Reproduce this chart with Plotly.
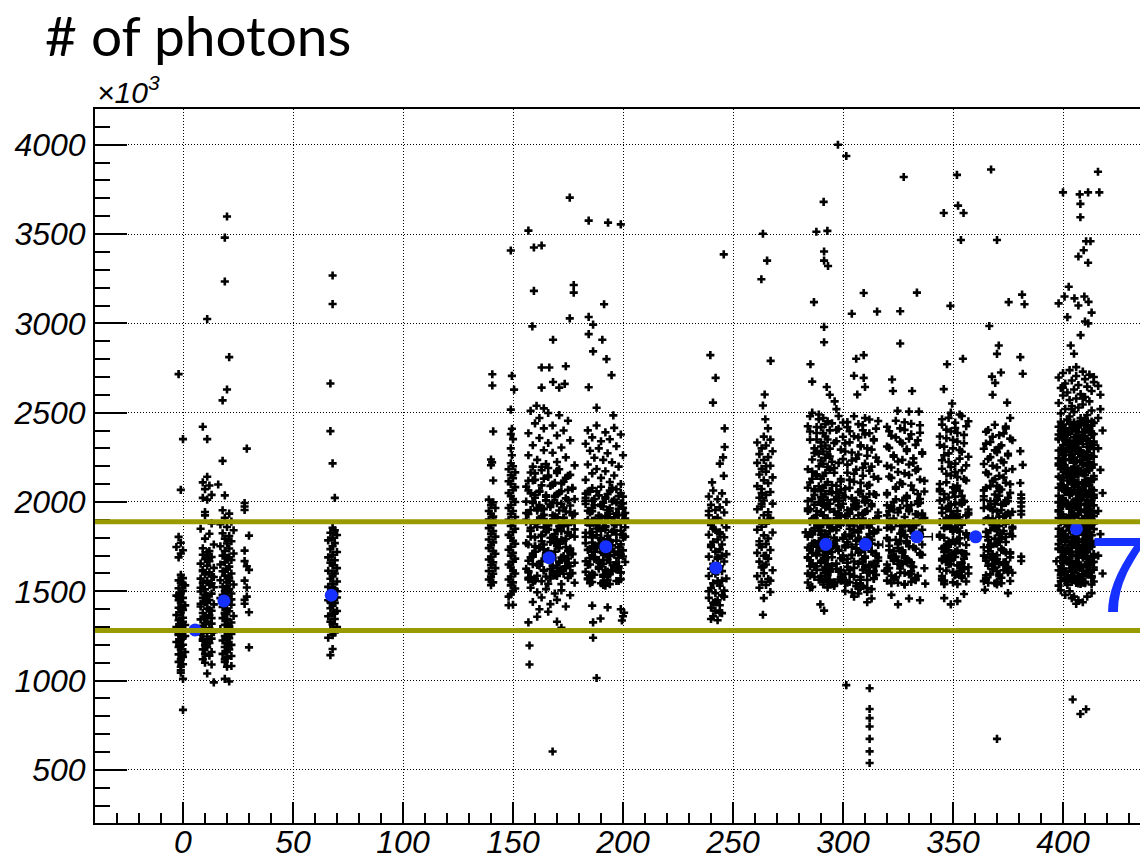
import plotly.graph_objects as go

# ---------------- texts ----------------
title_text = "# of photons"
exponent_text = "×10<sup>3</sup>"
energy_text = "7"

# ---------------- axes ----------------
x_range = [-40, 435]
y_range = [203, 4200]
x_ticks = [0, 50, 100, 150, 200, 250, 300, 350, 400]
y_ticks = [500, 1000, 1500, 2000, 2500, 3000, 3500, 4000]

# selection band (# of photons, x10^3)
band_lo = 1280
band_hi = 1890

# mean of each run group (blue points)
mean_x = [5.5, 18.6, 67.4, 166.4, 192.2, 242.2, 292.2, 310.2, 333.6, 360.3, 406.1]
mean_y = [1284, 1446, 1478, 1688, 1750, 1631, 1763, 1763, 1805, 1805, 1849]
mean_xerr = [2, 2, 2, 3, 3, 2, 3, 7.9, 7.0, 5.0, 3]

# ---------------- per-event points (run, # photons x10^3) ----------------
grp_a = [(-2,2716),(0,2352),(-1,2068),(0,1010),(0,836),(-1,1058),(-1,1045),
 (-2,1805),(-1,1772),(-3,1748),(0,1730),(-1,1712),(-2,1690),
 (-1,1592),(0,1574),(-2,1561),(-1,1548),(1,1533),(-2,1517),(0,1502),(-1,1489),(-3,1476),(0,1463),
 (-2,1450),(-1,1437),(1,1421),(-2,1408),(0,1396),(-1,1381),(-3,1367),(0,1352),(-2,1338),(-1,1325),
 (1,1311),(-2,1297),(0,1284),(-1,1270),(-2,1256),(0,1243),(-1,1229),(-3,1216),(0,1201),(-2,1188),
 (-1,1174),(1,1160),(-2,1147),(0,1133),(-1,1119),(-2,1105),(0,1092),(-1,1078),
 (0,1540),(-2,1470),(-1,1402),(0,1330),(-2,1262),(-1,1195),(1,1250),(-3,1300)]

grp_b = [(9,2421),(11,2352),(11,2141),(9,2110),(12,2092),(10,2072),(13,2040),(9,2023),(11,2013),(10,1944),
 (13,1090),(14,990),(11,1040),(9,1120),(12,1140),(10,1100),
 (10,1925),(13,1880),(8,1850),(12,1822),(10,1795),(14,1762),(9,1741),(12,1725),
 (11,1718),(9,1705),(13,1692),(10,1680),(12,1668),(8,1655),(11,1643),(14,1631),(9,1619),(12,1607),
 (10,1595),(13,1583),(8,1571),(11,1559),(9,1547),(12,1535),(14,1523),(10,1511),(8,1499),(13,1487),
 (11,1475),(9,1463),(12,1451),(10,1439),(14,1427),(8,1415),(11,1403),(13,1391),(9,1379),(12,1367),
 (10,1355),(8,1343),(11,1331),(13,1319),(9,1307),(12,1295),(10,1283),(14,1271),(8,1259),(11,1247),
 (13,1235),(9,1223),(12,1211),(10,1199),(11,1187),(9,1175),(13,1160),(10,1150),
 (12,1690),(9,1612),(13,1545),(10,1482),(8,1430),(12,1395),(10,1322),(13,1268),(9,1232),(11,1205),
 (14,1580),(8,1520),(11,1440),(13,1350),(9,1290)]

grp_c = [(20,3598),(19,3480),(19,3234),(11,3024),(21,2811),(20,2630),(18,2569),(18,2230),(16,2098),(19,2037),
 (20,1078),(22,1082),(19,1010),(21,995),(19,1120),
 (18,1954),(21,1935),(19,1912),(22,1890),(17,1875),(20,1860),(23,1842),(18,1825),(21,1810),(19,1795),(22,1780),
 (20,1768),(17,1752),(21,1740),(19,1726),(23,1712),(18,1700),(20,1688),(22,1675),(19,1662),(17,1650),
 (21,1638),(20,1625),(18,1612),(22,1600),(19,1588),(21,1575),(17,1562),(20,1550),(23,1538),(18,1525),
 (21,1512),(19,1500),(22,1488),(20,1475),(17,1462),(21,1450),(19,1438),(22,1425),(18,1412),(20,1400),
 (21,1388),(19,1375),(23,1362),(18,1350),(20,1338),(22,1325),(19,1312),(21,1300),(17,1288),(20,1275),
 (22,1262),(19,1250),(21,1238),(18,1225),(20,1212),(22,1200),(19,1188),(21,1175),(20,1162),(18,1150),
 (22,1138),(20,1125),(19,1105),
 (21,1690),(19,1610),(20,1530),(22,1455),(19,1380),(21,1305),(20,1230),(18,1480),(21,1560),(20,1345)]

grp_d = [(29,2299),(28,1994),(28,1975),(28,1955),(30,1812),(28,1728),(28,1669),(30,1620),(28,1560),
 (29,1521),(28,1452),(30,1383),(30,1186),(29,1640),(28,1430),(29,1470)]

grp_e = [(68,3268),(68,3108),(67,2663),(67,2397),(68,2216),(69,2023),(68,1177),(67,1143),
 (68,1856),(69,1842),(67,1828),(70,1815),(68,1800),(66,1785),(69,1770),(68,1752),(67,1736),(70,1720),
 (68,1705),(66,1690),(69,1674),(67,1660),(68,1645),(70,1630),(66,1615),(69,1600),(68,1585),(67,1570),
 (70,1555),(68,1540),(66,1525),(69,1510),(67,1495),(68,1480),(70,1465),(66,1450),(69,1435),(68,1420),
 (67,1405),(70,1390),(68,1375),(66,1360),(69,1345),(67,1330),(68,1315),(70,1300),(67,1285),(69,1270),
 (68,1255),(66,1240),(68,1520),(67,1440),(69,1380),(68,1600),(70,1500)]

grp_f1 = [(140.6,2715),(140.6,2652),(141,2395),(140,2238),(140.5,2222),(140,2206),(141,2120),
 (139,2013),(141,1998),(140,1982),(142,1966),(139,1950),(140,1934),(141,1918),(139,1902),(142,1886),
 (140,1870),(139,1854),(141,1838),(140,1822),(142,1806),(139,1790),(141,1774),(140,1758),(139,1742),
 (141,1726),(142,1710),(140,1694),(139,1678),(141,1662),(140,1646),(142,1630),(139,1614),(141,1598),
 (140,1582),(139,1566),(141,1550),(140,1534)]

grp_f2 = [(149,3408),(149.5,2706),(150.5,2629),(149,2517),(149.5,2410),(149,2380),(150,2352),(149,2300),
 (149.5,2262),(148,1422),(150,1425),
 (149,2217),(150,2200),(148,2183),(151,2166),(149,2150),(150,2133),(148,2116),(149,2100),(151,2083),
 (150,2066),(148,2050),(149,2033),(150,2016),(151,2000),(149,1983),(148,1966),(150,1950),(149,1933),
 (151,1916),(148,1900),(150,1883),(149,1866),(151,1850),(150,1833),(148,1816),(149,1800),(150,1783),
 (151,1766),(149,1750),(148,1733),(150,1716),(149,1700),(151,1683),(150,1666),(148,1650),(149,1633),
 (150,1616),(151,1600),(149,1583),(148,1566),(150,1550),(149,1533),(151,1516),(150,1500),(149,1483),(148,1470)]

grp_g_out = [(175.8,3704),(157,3519),(159.5,3425),(163,3436),(159.5,3182),(158.8,2983),(168.2,2908),
 (177.6,3215),(177.6,3172),(175.8,3028),(163,2753),(166.5,2753),(174,2760),(163,2640),(168.2,2672),
 (171,2640),(173.5,2661),(160.7,2539),(164,2524),(168,603),(157,1326),(161,1358),(157.5,1197),
 (157.5,1090),(170,1330),(172,1296),
 (158,2510),(166,2498),(171,2486),(162,2470),(175,2455),(160,2440),(168,2428),(164,2412),(173,2400),
 (157,2385),(170,2372),(162,2358),(176,2345),(166,2330),(159,2318),(172,2305),(164,2290),(168,2276),
 (157,2262),(174,2250),(161,2236),(170,2224),(165,2212),(178,2205),(159,2198),
 (158,1520),(165,1512),(172,1505),(161,1495),(169,1488),(176,1478),(163,1465),(170,1452),(159,1440),
 (167,1428),(174,1415),(162,1400),(166,1386)]
grp_g_core = [(161,1968),(172,1622),(166,1845),(177,1710),(157,1575),(169,2028),(175,1872),(163,1668),(178,1935),(159,1552),
 (170,1790),(164,1858),(174,1640),(156,2002),(168,1598),(160,1750),(173,1912),(165,1695),(176,1815),(158,1580),
 (167,1985),(171,1660),(162,1895),(175,1725),(157,1612),(166,1870),(169,1770),(174,1630),(160,2040),(163,1556),
 (172,1836),(158,1690),(177,1928),(164,1762),(170,1586),(161,1952),(176,1716),(167,1800),(173,1864),(159,1652),
 (165,2010),(171,1606),(156,1890),(168,1644),(162,1746),(178,1806),(174,1672),(166,1542),(160,1722),(170,1994),
 (163,1920),(175,1684),(157,1566),(169,1905),(172,2060),(158,1840),(176,1600),(164,1960),(171,1742),(167,1625)]
grp_g_x = [163,171,158,176,166,160,173,168,156,175,162,170,165,178,159,172,167,161,174,157,169,164,177,160,
 171,166,158,175,163,168,173,156,170,162,176,165,159,172,167,178,161,174,164,157,169,175,160,166,
 170,160,175,164,157,172,167,177,162,158,169,174,165,159,176,163,171,156,168,173,161,178,166,158,
 170,175,163,160,172,167,157,174,164,169,177,159,166,171,162,176,156,168,173,165,160,178,163,170,
 166,174,159,169,163,177,157,171,165,160,175,168,162,173,158,176,164,170,156,167,172,161,178,165,
 169,158,174,163,171,160,176,166,159,173,168,157,175,162,170,164,177,161,167,172,158,169,174,163]
grp_g_y = [2196,2183,2165,2152,2140,2124,2113,2097,2086,2068,2057,2043,2029,2016,2001,1990,1972,1961,1947,1933,
 1920,1904,1893,1878,1866,1850,1838,1825,1809,1797,1783,1770,1755,1742,1730,1714,1701,1689,1674,1660,
 1648,1633,1619,1606,1590,1575,1560,
 2190,2174,2160,2146,2131,2119,2104,2090,2075,2062,2049,2034,2020,2008,1994,1980,1966,1952,1938,1925,
 1911,1898,1884,1870,1856,1843,1830,1816,1802,1789,1776,1762,1748,1735,1722,1708,1694,1681,1667,1654,
 1640,1626,1612,1598,1583,1568,1548,
 2178,2162,2148,2135,2121,2107,2093,2080,2064,2052,2037,2024,2011,1996,1983,1969,1955,1941,1928,1914,
 1900,1888,1874,1860,1847,1834,1820,1806,1793,1780,1766,1752,1739,1726,1712,1698,1685,1671,1658,1644,
 1630,1616,1602,1587,1572,1540]

grp_h_out = [(184.4,3575),(193.2,3564),(199,3554),(191.4,3107),(184.4,3036),(186.4,2993),(184.4,2940),
 (190.6,2908),(186.4,2843),(192.5,2800),(194.8,2710),(184.4,2642),(188,2528),(195.6,2485),(186.4,1326),
 (189.8,1348),(186.4,1240),(188,1015),(200.5,1380),(199.5,1337),(200,1360),(199,1400),(186,1420),(193,1410),
 (188,2428),(196,2415),(184,2401),(192,2390),(199,2378),(186,2362),(194,2351),(190,2340),(183,2326),
 (197,2312),(189,2300),(185,2287),(193,2273),(200,2262),(187,2248),(191,2236),(195,2222),(184,2210),
 (198,2198),(188,2185),(192,2172),(186,2160),(196,2148),(190,2135),(183,2124),(194,2112),(199,2100)]
grp_h_core = [(186,1966),(195,1618),(190,1842),(199,1706),(184,1568),(192,2026),(197,1874),(188,1674),(201,1938),(185,1546),
 (193,1792),(189,1852),(198,1634),(183,2006),(191,1592),(187,1754),(196,1914),(194,1697),(200,1816),(185,1577),
 (190,1986),(197,1662),(186,1894),(193,1727),(199,1606),(188,1868),(192,1774),(196,1631),(184,2058),(191,1553),
 (195,1834),(187,1692),(200,1926),(189,1766),(185,1588),(194,1951),(198,1716),(186,1802),(192,1862),(190,1652),
 (197,1998),(193,1610),(183,1888),(196,1646),(188,1746),(201,1806),(191,1674),(194,1540),(187,1722),(199,1992),
 (192,1922),(185,1686),(198,1558),(189,1906),(195,2072)]
grp_h_x = [190,197,185,193,200,187,195,183,191,198,186,194,189,201,184,196,192,188,199,185,
 193,190,197,183,195,187,200,191,186,198,189,194,184,196,192,199,187,185,193,190,
 186,194,199,189,183,196,191,187,200,193,185,198,190,184,195,188,201,192,186,197,
 183,190,194,199,188,185,196,192,200,187,183,191,198,189,195,186,193,184,197,191,
 195,188,183,198,192,186,200,190,194,184,197,189,193,187,199,185,191,196,183,188,
 200,194,186,192,198,184,190,196,187,193,201,185,189,197,183,194,191,199,186,192]
grp_h_y = [2085,2071,2057,2044,2030,2016,2003,1989,1975,1962,1948,1934,1921,1907,1893,1880,1866,1852,1839,1825,
 1811,1798,1784,1770,1757,1743,1729,1716,1702,1688,1675,1661,1647,1634,1620,1606,1593,1579,1565,1545,
 2078,2064,2050,2037,2023,2009,1996,1982,1968,1955,1941,1927,1914,1900,1886,1873,1859,1845,1832,1818,
 1804,1791,1777,1763,1750,1736,1722,1709,1695,1681,1668,1654,1640,1627,1613,1599,1586,1572,1558,1535,
 2080,2060,2047,2033,2019,2006,1992,1978,1965,1951,1937,1924,1910,1896,1883,1869,1855,1842,1828,1814,
 1801,1787,1773,1760,1746,1732,1719,1705,1691,1678,1664,1650,1637,1623,1609,1596,1582,1568,1552,1531]

grp_i_out = [(245.8,3386),(239.7,2822),(242.1,2695),(240.9,2556),(246.2,2412),(246.2,2308),(245.5,2250),
 (244,2215),(245.8,2146),(240.5,2110),
 (242,1900),(244,1820),(240,1760),(243,1690),(241,1630),(245,1560),(239,1500),(242,1440),(244,1380),
 (240,1345),(246,1470),(243,1610),(241,1850),(245,1700),(239,1950)]
grp_i_x = [241,245,239,243,247,240,244,242,246,239,243,241,245,240,247,242,244,239,246,243,241,245,240,244,242,
 247,239,243,246,241,244,240,245,242,239,247,243,241,244,240,246,242,245,239,243,241,244,240,242,245,241,243]
grp_i_y = [2064,2048,2031,2015,2000,1984,1970,1955,1941,1926,1912,1899,1885,1871,1858,1844,1830,1817,1803,1790,
 1776,1762,1749,1735,1722,1708,1694,1681,1667,1654,1640,1626,1613,1599,1586,1572,1558,1545,1531,1518,
 1504,1490,1477,1463,1450,1436,1422,1408,1392,1378,1360,1338]

grp_j_out = [(263.6,3502),(265.5,3351),(262.9,3247),(267.1,2790),(264.4,2602),(263.6,2540),(264.7,2463),
 (265.9,2412),(263.6,1369),(265,2200),(263,2050),(266,1900),(262,1760),(264,1640),(267,1560),(263,1990),(265,1700)]
grp_j_x = [264,267,261,265,263,268,262,266,264,261,267,263,265,262,268,264,266,261,263,267,265,262,264,268,263,
 261,266,264,267,262,265,263,261,268,264,266,262,265,263,267,261,264,266,262,265,263,268,264,261,266,263,265,262,267,264]
grp_j_y = [2366,2349,2333,2316,2300,2284,2268,2251,2235,2219,2203,2186,2170,2154,2138,2121,2105,2089,2073,2056,
 2040,2024,2008,1991,1975,1959,1943,1926,1910,1894,1878,1861,1845,1829,1813,1796,1780,1764,1748,1731,
 1715,1699,1683,1666,1650,1634,1618,1601,1585,1569,1553,1536,1520,1496,1462]

grp_k_out = [(291.2,3680),(287.9,3513),(292.9,3518),(291.4,3402),(291.4,3351),(293.2,3321),(286.8,3119),
 (291.4,2980),(291.4,2894),(285.2,2771),(286,2674),(292.6,2644),(296.2,2563),(289.7,1427),(291.4,1392),
 (301.5,975),(285,2480),(288,2420),(294,2600),(297,2520)]
grp_k_core = [(287,1985),(295,1642),(290,2061),(298,1733),(285,1588),(293,1877),(288,1701),(296,2014),(284,1806),(291,1553),
 (299,1921),(286,1768),(294,1615),(289,2088),(297,1842),(292,1679),(285,1959),(300,1574),(288,1895),(295,1720),
 (290,1660),(283,1830),(296,1540),(287,2040),(293,1785),(298,1610),(286,1905),(291,1745),(299,2070),(289,1565),
 (294,1990),(284,1690),(297,1860),(292,1630),(288,1950),(300,1795),(285,1520),(295,2095),(290,1815),(287,1580),
 (293,1710),(298,1935),(286,1655),(291,2025),(296,1760),(289,1870),(284,1600),(299,1685),(292,1970),(288,1750),
 (294,1545),(287,1910),(297,1625),(290,1995),(285,1740),(295,1855),(291,1675),(298,2050),(286,1825),(293,1590),
 (289,1725),(296,1945),(284,2005),(292,1795),(299,1560),(288,1640),(294,1880),(287,1770),(300,1700),(291,1925)]
grp_k_cx = [291,293,292,290,294,291,292,293,290,292,294,291,293,292,290,291,293,294,292,291,290,293,292,291,294,
 292,290,293,291,292,294,290,291,293,292,291,294,290,292,293,291,292,290,294,293,291,292,290,293,292,
 291,293,290,292,294,291,293]
grp_k_cy = [2470,2452,2436,2418,2401,2385,2367,2350,2334,2316,2299,2283,2265,2248,2232,2214,2197,2181,2163,2146,
 2130,2112,2095,2079,2061,2044,2028,2010,1993,1977,1959,1942,1926,1908,1891,1875,1857,1840,1824,1806,
 1789,1773,1755,1738,1722,1704,1687,1671,1653,1636,1620,1603,1587,1570,1553,1538,1522]
grp_k_x = [286,298,289,295,284,297,288,300,285,296,290,299,287,294,286,298,289,284,296,288,299,285,297,287,295,
 300,286,289,298,284,296,288,297,285,299,287,294,286,300,289,296,284,298,288,295,285,297,287,299,286,
 290,298,284,296,289,300,285,297,288,295,286,299,287,298,284,296,289,297,285,300,288,294,286,298,287,
 296,284,299,289,297,285,295,288,300,286,298,287,296,284,299,289,297,285,294,288,298,286,300,287,296]
grp_k_y = [2500,2481,2463,2440,2424,2403,2386,2365,2349,2330,2311,2293,2274,2255,2238,2219,2200,2183,2164,2146,
 2128,2109,2091,2073,2054,2036,2018,2000,1981,1963,1945,1927,1908,1890,1872,1854,1836,1818,1800,1782,
 1764,1745,1727,1709,1691,1673,1655,1637,1619,1601,1583,1566,1549,1530,
 2490,2445,2395,2340,2282,2225,2170,2115,2060,2005,1950,1895,1840,1785,1730,1675,1620,1565,1525,
 2410,2300,2190,2080,1970,1860,1750,1640,1540,2350,2240,2130,2020,1910,1800,1690,1580,
 2270,2050,1830,1610,2155,1935,1715,1990,1770,1550]

grp_l_out = [(297.7,4000),(301.5,3937),(309.4,3170),(304,3054),(315.5,3066),(306,2802),(309.4,2822),(305,2707),
 (309.4,2695),(306.5,2602),(310,2644),(311,1439),(312.1,957),(312.1,841),(312.1,790),(312.1,743),(312.1,674),
 (312.1,604),(312.1,539),(313,1460),(305,1470)]
grp_l_core = [(304,1962),(311,1605),(307,1830),(315,1712),(302,1548),(309,2031),(313,1880),(305,1667),(316,1941),(308,1523),
 (312,1789),(303,1850),(310,1634),(306,2008),(314,1574),(301,1746),(309,1907),(316,1689),(304,1812),(311,1497),
 (307,1975),(313,1650),(302,1889),(308,1720),(315,1592),(305,1868),(310,1766),(303,1618),(312,2045),(306,1545),
 (314,1835),(309,1680),(301,1920),(316,1760),(307,1515),(311,1950),(304,1702),(313,1788),(308,1861),(302,1660),
 (310,1998),(305,1582),(315,1900),(312,1610),(306,1740),(303,1935),(314,1655),(309,1530),(307,1795),(311,1875),
 (301,1600),(316,1845),(304,2020),(313,1725),(308,1565),(310,1695),(305,1985),(312,1820),(302,1775),(315,1640)]
grp_l_x = [305,312,302,309,315,303,310,307,314,301,308,313,304,311,306,316,302,309,312,305,314,303,308,311,301,
 307,315,304,310,313,306,302,309,316,305,312,303,308,314,301,311,306,313,304,310,307,315,302,309,312,
 305,314,303,308,311,301,306,313,304,310,316,307,302,309,312,305,314,303,308,311,301,307,315,304,310,
 313,306,302,309,316,305,312,303,308,314,301,311,306,313,304,310,307,315,302,309,312,305,314,303,308,
 311,301,306,313,304,310,316,307,302,309,312,305,314,303,308,311,301,307,315,304]
grp_l_y = [2480,2462,2447,2430,2411,2396,2378,2362,2344,2328,2311,2293,2277,2259,2243,2226,2209,2192,2175,2158,
 2141,2124,2107,2090,2073,2056,2039,2022,2005,1988,1971,1954,1937,1920,1903,1886,1869,1852,1835,1818,
 1801,1784,1767,1750,1733,1716,1699,1682,1665,1648,1631,1614,1597,1580,1563,1546,1529,1512,1495,
 2470,2453,2436,2419,2402,2385,2368,2351,2334,2317,2300,2283,2266,2249,2232,2215,2198,2181,2164,2147,
 2130,2113,2096,2079,2062,2045,2028,2011,1994,1977,1960,1943,1926,1909,1892,1875,1858,1841,1824,1807,
 1790,1773,1756,1739,1722,1705,1688,1671,1654,1637,1620,1603,1586,1569,1552,1535,1518,1501,1488]

grp_m_out = [(327.6,3819),(333.6,3172),(326,3068),(326,2887),(322.3,2686),(322.7,2621),(331.4,2621),
 (324.8,2510),(330,2506),(334.5,2506),(325,1427),(337.4,1543),(330,1460),(335,1450),(322,1480)]
grp_m_core = [(323,1958),(331,1612),(327,1840),(335,1705),(320,1560),(329,2022),(333,1870),(325,1672),(336,1936),(328,1541),
 (321,1786),(332,1855),(326,1628),(334,2004),(322,1588),(330,1752),(337,1910),(324,1694),(328,1815),(333,1566),
 (320,1982),(327,1655),(335,1892),(323,1725),(331,1598),(326,1866),(329,1770),(321,1630),(334,2045),(325,1548),
 (332,1830),(328,1688),(320,1925),(336,1762),(324,1580),(330,1948),(327,1715),(333,1795),(322,1860),(329,1662),
 (335,1995),(326,1604),(321,1890),(331,1640),(325,1742),(334,1930),(323,1670),(328,1537),(332,1800),(330,1880),
 (319,1615),(336,1845),(324,2015),(327,1730),(333,1575),(322,1700),(329,1978),(335,1820),(326,1780),(320,1650)]
grp_m_x = [324,331,320,328,335,322,330,326,333,321,329,336,323,327,332,320,334,325,330,322,337,327,324,332,320,
 329,335,323,331,326,321,333,328,336,324,330,322,327,334,320,329,325,332,321,335,328,323,331,326,337,
 320,330,324,333,322,328,335,326,321,331,324,334,327,320,329,336,323,332,325,330,322,333,328,321,335,
 326,331,324,337,320,329,327,334,322,330,325,336,323,332,328,320,331,326,335,324,329,321,333,327,336,
 322,330,325,332,320,328,334,323,331]
grp_m_y = [2455,2438,2421,2404,2388,2371,2354,2337,2320,2303,2286,2270,2253,2236,2219,2202,2185,2168,2152,2135,
 2118,2101,2084,2067,2050,2034,2017,2000,1983,1966,1949,1932,1916,1899,1882,1865,1848,1831,1814,1798,
 1781,1764,1747,1730,1713,1696,1680,1663,1646,1629,1612,1595,1578,1562,1545,
 2446,2430,2412,2396,2379,2362,2345,2328,2311,2295,2278,2261,2244,2227,2210,2193,2177,2160,2143,2126,
 2109,2092,2075,2059,2042,2025,2008,1991,1974,1957,1941,1924,1907,1890,1873,1856,1839,1823,1806,1789,
 1772,1755,1738,1721,1705,1688,1671,1654,1637,1620,1603,1587,1570,1553,1535]

grp_n_out = [(351.8,3831),(352.3,3659),(354.8,3618),(345.8,3618),(353.6,3467),(348.8,3098),(347.3,2771),
 (354.5,2802),(345.8,2632),(349.6,2551),(349,1427),(355,1485),(346,1462),(352,1445)]
grp_n_core = [(347,1962),(353,1615),(350,1838),(356,1708),(345,1562),(351,2030),(354,1875),(348,1676),(357,1940),(346,1543),
 (352,1790),(349,1850),(355,1632),(344,2008),(351,1590),(347,1755),(353,1915),(350,1698),(356,1818),(345,1570),
 (349,1985),(354,1660),(346,1895),(352,1728),(357,1600),(348,1870),(351,1772),(355,1625),(344,2060),(350,1550),
 (353,1835),(347,1690),(356,1925),(349,1765),(345,1585),(352,1950),(354,1715),(346,1800),(351,1862),(348,1650),
 (355,2000),(350,1608),(344,1888),(353,1645),(347,1745),(357,1805),(349,1672),(352,1540),(346,1720),(354,1990),
 (350,1928),(345,1682),(356,1555),(348,1905),(351,2075)]
grp_n_x = [349,354,345,351,356,347,352,344,350,355,346,353,348,357,345,351,349,354,347,352,356,344,350,353,346,
 348,355,351,345,349,357,347,352,354,346,350,344,353,348,356,345,351,349,355,347,352,344,350,354,346,
 353,348,357,345,351,349,355,347,352,344,350,354,346,353,348,356,345,351,349,355,347,352,344,350,354,
 346,353,348,357,345,351,349,354,347,352,356,344,350,353,346,348,355,351,345,349,357,347,352,354,346]
grp_n_y = [2500,2481,2463,2444,2424,2405,2386,2367,2348,2329,2310,2291,2272,2253,2234,2215,2196,2177,2158,2139,
 2120,2101,2082,2063,2044,2025,2006,1987,1968,1949,1930,1911,1892,1873,1854,1835,1816,1797,1778,1759,
 1740,1721,1702,1683,1664,1645,1626,1607,1588,1560,
 2490,2471,2452,2433,2414,2395,2376,2357,2338,2319,2300,2281,2262,2243,2224,2205,2186,2167,2148,2129,
 2110,2091,2072,2053,2034,2015,1996,1977,1958,1939,1920,1901,1882,1863,1844,1825,1806,1787,1768,1749,
 1730,1711,1692,1673,1654,1635,1616,1597,1575,1540]

grp_o_out = [(367.3,3861),(370,3467),(375.3,3119),(381.4,3161),(382.5,3107),(366.5,2985),(370.8,2876),
 (370,2829),(371.8,2725),(367.7,2702),(369.2,2667),(374.6,2556),(368,2600),(376,2470),(364.5,1508),
 (375,1490),(370,674),(380.6,2811),(381.7,2718),(380.6,2285),(381.7,2208),(380.6,2106),(381,2041),
 (381,2020),(381,1998),(381,1975),(381,1950),(381,1930),(381,1694),(381,1670)]
grp_o_core = [(367,1965),(373,1618),(370,1842),(376,1712),(365,1565),(371,2035),(374,1878),(368,1680),(377,1945),(366,1548),
 (372,1795),(369,1852),(375,1636),(364,2012),(371,1594),(367,1758),(373,1918),(370,1702),(376,1822),(365,1575),
 (369,1988),(374,1664),(366,1898),(372,1732),(377,1604),(368,1874),(371,1776),(375,1628),(364,2065),(370,1555),
 (373,1838),(367,1694),(376,1928),(369,1768),(365,1590),(372,1955),(374,1718),(366,1804),(371,1866),(368,1654),
 (375,2004),(370,1612),(364,1892),(373,1648),(367,1748),(377,1808),(369,1676),(372,1545),(366,1724),(374,1995),
 (370,2090),(365,1686),(376,1558),(368,1908),(371,2080)]
grp_o_x = [369,374,365,371,376,367,372,364,370,375,366,373,368,377,365,371,369,374,367,372,376,364,370,373,366,
 368,375,371,365,369,377,367,372,374,366,370,364,373,368,376,365,371,369,375,367,372,364,370,374,366,
 373,368,377,365,371,369,375,367,372,364,370,374,366,373,368,376,365,371,369,375,367,372,364,370,374,
 366,373,368,377,365,371,369,374,367,372,376,364,370,373,366,368,375,371,365,369]
grp_o_y = [2432,2412,2393,2374,2355,2336,2317,2298,2279,2260,2241,2222,2203,2184,2165,2146,2127,2108,2089,2070,
 2051,2032,2013,1994,1975,1956,1937,1918,1899,1880,1861,1842,1823,1804,1785,1766,1747,1728,1709,1690,
 1671,1652,1633,1614,1595,1576,1557,1538,
 2422,2403,2384,2365,2346,2327,2308,2289,2270,2251,2232,2213,2194,2175,2156,2137,2118,2099,2080,2061,
 2042,2023,2004,1985,1966,1947,1928,1909,1890,1871,1852,1833,1814,1795,1776,1757,1738,1719,1700,1681,
 1662,1643,1624,1605,1586,1567,1545]

grp_p_out = [(400,3733),(407.6,3722),(411.4,3733),(415.9,3849),(416.5,3733),(407.9,3669),(407.9,3594),
 (410.5,3460),(412.5,3460),(407,3374),(409.4,3409),(411.4,3339),(402.6,3205),(398,3112),(400.7,3150),
 (405.2,3140),(409.7,3150),(411.6,3120),(407,3100),(413,3060),(402,3035),(410,3010),(411.5,3000),
 (408,2934),(403.5,2876),(405,2830),(404.4,894),(407.9,813),(410.5,840),
 (416,2650),(417,2520),(418,2400),(416,2300),(417,2180),(418,2050),(416,1950),(417,1820),(416,1700),
 (418,1600),(417,2600),(416,2470),
 (404,1462),(409,1439),(405,1470),(401,1480),(411,1470),(407,1450),(403,1500),(413,1490),(399,1505),(406,1430),
 (403,2738),(409,2730),(400,2722),(412,2713),(406,2705),(398,2697),(410,2688),(404,2680),(414,2671),
 (401,2663),(407,2655),(411,2646),(399,2638),(405,2630),(413,2621),(402,2613),(408,2604),(400,2596),
 (410,2588),(406,2579),(403,2571),(412,2563),(398,2554),(409,2546),(404,2537),(407,2529),(401,2521),
 (413,2512),(405,2504),(399,2496),(411,2487),(403,2479),(408,2470),(410,2466),(402,2462),(406,2755),
 (414,2700),(400,2640),(409,2580),(404,2520)]
grp_p_core = [(401,2412),(409,1688),(405,2155),(413,1902),(399,1575),(407,2330),(411,1790),(403,2040),(414,1633),(400,2268),
 (408,1861),(404,1552),(412,2201),(406,1744),(398,1998),(410,2389),(402,1672),(409,2100),(405,1818),(413,2450),
 (401,1595),(407,1960),(411,2245),(403,1710),(399,2080),(414,1880),(406,1620),(408,2360),(400,1930),(412,1766),
 (404,2175),(410,1545),(402,2300),(409,1840),(405,1655),(413,2125),(401,1995),(407,1725),(411,2420),(403,1570),
 (398,1910),(406,2230),(414,1690),(408,2015),(400,1805),(412,2340),(404,1610),(410,1955),(402,2190),(409,1760),
 (405,2440),(413,1585),(401,2060),(407,1870),(411,1640),(403,2280),(399,1735),(414,2145),(406,1980),(408,1560),
 (400,2385),(412,1828),(404,1700),(410,2090),(402,1905),(409,2255),(405,1625),(413,1945),(401,2170),(407,1790),
 (411,2030),(403,1850),(398,2355),(406,1665),(414,2210),(408,1890),(400,1605),(412,2405),(404,1968),(410,1718),
 (402,2120),(409,1548),(405,2310),(413,1775),(401,1885),(407,2050),(411,1680),(403,2235),(399,1820),(414,1920),
 (406,2395),(408,1640),(400,2005),(412,1740),(404,2265),(410,1860),(402,1590),(409,2160),(405,1935),(413,2375),
 (401,1712),(407,2110),(411,1835),(403,1565),(398,2215),(406,1795),(414,2025),(408,2290),(400,1660),(412,1975),
 (404,1880),(410,2430),(402,1745),(409,1615),(405,2070),(413,1815),(401,2345),(407,1580),(411,2185),(403,1925),
 (399,1690),(414,2320),(406,1855),(408,1730),(400,2140),(412,1620),(404,2400),(410,1990),(402,1805),(409,2240),
 (405,1570),(413,2010),(401,1775),(407,2270),(411,1945),(403,1650),(398,1850),(406,2180),(414,1555),(408,2455)]
grp_p_x = [402,410,398,406,413,400,408,404,411,399,407,414,401,409,405,412,403,398,410,406,400,413,404,408,411,
 402,399,407,414,405,401,409,412,403,406,398,410,404,413,400,408,411,402,407,399,414,405,409,401,406,
 408,400,412,404,398,410,403,414,406,401,411,405,399,409,413,402,407,400,412,404,398,410,406,414,401,
 408,403,411,399,405,413,402,409,400,406,412,404,398,410,403,414,407,401,411,405,399,409,413,402,408,
 405,413,401,409,399,411,406,402,414,408,400,404,412,398,407,410,403,413,405,400,409,401,411,406,398,
 414,403,408,412,402,399,410,405,407,413,401,409,404,398,411,406,400,414,408,403,412,399,405,410,402,
 411,403,407,399,414,405,401,409,412,398,404,410,406,400,413,408,402,405,411,399,407,414,403,409,400,
 412,406,398,404,410,413,401,408,403,411,405,399,414,407,402,409,400,412,404,406,398,410,413,401,407,
 399,407,404,412,402,409,414,400,405,411,403,398,408,413,401,406,410,399,404,412,402,408,414,400,405,
 410,403,398,407,411,401,413,406,399,409,402,412,405,400,408,414,403,397,410,406,401,411,404,399,413,
 414,406,410,402,407,398,412,404,400,409,413,401,405,411,399,408,403,414,406,410,402,412,398,407,404,
 400,411,413,405,409,399,403,414,407,401,410,406,412,398,404,409,401,413,405,400,411,407,403,410,398]
grp_p_y = [2458,2440,2421,2402,2384,2365,2347,2328,2309,2291,2272,2254,2235,2216,2198,2179,2161,2142,2123,2105,
 2086,2068,2049,2030,2012,1993,1975,1956,1937,1919,1900,1882,1863,1844,1826,1807,1789,1770,1751,1733,
 1714,1696,1677,1658,1640,1621,1603,1584,1565,1547,
 2452,2434,2415,2396,2378,2359,2341,2322,2303,2285,2266,2248,2229,2210,2192,2173,2155,2136,2117,2099,
 2080,2062,2043,2024,2006,1987,1969,1950,1931,1913,1894,1876,1857,1838,1820,1801,1783,1764,1745,1727,
 1708,1690,1671,1652,1634,1615,1597,1578,1559,1541,
 2446,2428,2409,2390,2372,2353,2335,2316,2297,2279,2260,2242,2223,2204,2186,2167,2149,2130,2111,2093,
 2074,2056,2037,2018,2000,1981,1963,1944,1925,1907,1888,1870,1851,1832,1814,1795,1777,1758,1739,1721,
 1702,1684,1665,1646,1628,1609,1591,1572,1553,1535,
 2455,2437,2418,2399,2381,2362,2344,2325,2306,2288,2269,2251,2232,2213,2195,2176,2158,2139,2120,2102,
 2083,2065,2046,2027,2009,1990,1972,1953,1934,1916,1897,1879,1860,1841,1823,1804,1786,1767,1748,1730,
 1711,1693,1674,1655,1637,1618,1600,1581,1562,1544,
 2449,2431,2412,2393,2375,2356,2338,2319,2300,2282,2263,2245,2226,2207,2189,2170,2152,2133,2114,2096,
 2077,2059,2040,2021,2003,1984,1966,1947,1928,1910,1891,1873,1854,1835,1817,1798,1780,1761,1742,1724,
 1705,1687,1668,1649,1631,1612,1594,1575,1556,1538,
 2443,2425,2406,2387,2369,2350,2332,2313,2294,2276,2257,2239,2220,2201,2183,2164,2146,2127,2108,2090,
 2071,2053,2034,2015,1997,1978,1960,1941,1922,1904,1885,1867,1848,1829,1811,1792,1774,1755,1736,1718,
 1699,1681,1662,1643,1625,1606,1588,1569,1550,1532]

# ---------------- assemble ----------------
pair_groups = [grp_a, grp_b, grp_c, grp_d, grp_e, grp_f1, grp_f2, grp_g_out, grp_g_core, grp_h_out, grp_h_core,
               grp_i_out, grp_j_out, grp_k_out, grp_k_core, grp_l_out, grp_l_core, grp_m_out, grp_m_core,
               grp_n_out, grp_n_core, grp_o_out, grp_o_core, grp_p_out, grp_p_core]
list_groups = [(grp_g_x, grp_g_y), (grp_h_x, grp_h_y), (grp_i_x, grp_i_y), (grp_j_x, grp_j_y),
               (grp_k_cx, grp_k_cy), (grp_k_x, grp_k_y), (grp_l_x, grp_l_y), (grp_m_x, grp_m_y),
               (grp_n_x, grp_n_y), (grp_o_x, grp_o_y), (grp_p_x, grp_p_y)]

ev_x, ev_y = [], []
for g in pair_groups:
    for px, py in g:
        ev_x.append(px)
        ev_y.append(py)
for gx, gy in list_groups:
    for px, py in zip(gx, gy):
        ev_x.append(px)
        ev_y.append(py)

BLUE = "#1530ff"
OLIVE = "#999900"
tick_font = dict(family="Liberation Sans, Arial, sans-serif", size=32, color="black", style="italic")

fig = go.Figure()
fig.add_trace(go.Scatter(
    x=ev_x, y=ev_y, mode="markers",
    marker=dict(symbol="cross-thin", size=5.8, color="black", line=dict(color="black", width=2.6)),
    showlegend=False, hoverinfo="skip"))
fig.add_trace(go.Scatter(
    x=mean_x, y=mean_y, mode="markers",
    marker=dict(symbol="circle", size=13, color=BLUE, line=dict(width=0)),
    error_x=dict(type="data", array=mean_xerr, color="black", thickness=1.5, width=4),
    showlegend=False))

for yv in (band_hi, band_lo):
    fig.add_shape(type="line", xref="paper", yref="y", x0=0, x1=1, y0=yv, y1=yv,
                  line=dict(color=OLIVE, width=5), layer="above")

fig.update_xaxes(
    range=x_range, tickmode="array", tickvals=x_ticks, ticktext=[str(v) for v in x_ticks],
    ticks="inside", ticklen=21, tickwidth=1.5, tickcolor="black",
    minor=dict(dtick=10, tick0=0, ticks="inside", ticklen=10, tickwidth=1.5, tickcolor="black", showgrid=False),
    showline=True, linecolor="black", linewidth=2, mirror=True,
    showgrid=True, gridcolor="black", gridwidth=1, griddash="1px,2px",
    zeroline=False, tickfont=tick_font, ticklabelstandoff=-10)
fig.update_yaxes(
    range=y_range, tickmode="array", tickvals=y_ticks, ticktext=[str(v) for v in y_ticks],
    ticks="inside", ticklen=32, tickwidth=1.5, tickcolor="black",
    minor=dict(dtick=100, tick0=0, ticks="inside", ticklen=15, tickwidth=1.5, tickcolor="black", showgrid=False),
    showline=True, linecolor="black", linewidth=2, mirror=False,
    showgrid=True, gridcolor="black", gridwidth=1, griddash="1px,2px",
    zeroline=False, tickfont=tick_font, ticklabelstandoff=1)

fig.add_annotation(text=title_text, xref="paper", yref="paper", x=-0.05, y=1.1526,
                   xanchor="left", yanchor="top", showarrow=False,
                   font=dict(family="Lato, sans-serif", size=55, color="black"))
fig.add_annotation(text=exponent_text, xref="paper", yref="paper", x=0.0, y=0.997,
                   xanchor="left", yanchor="bottom", showarrow=False,
                   font=dict(family="Liberation Sans, Arial, sans-serif", size=30, color="black", style="italic"))
fig.add_annotation(text=energy_text, xref="paper", yref="paper", x=0.949, y=0.261,
                   xanchor="left", yanchor="bottom", showarrow=False,
                   font=dict(family="Liberation Sans, Arial, sans-serif", size=107, color=BLUE))

fig.update_layout(
    width=1140, height=860,
    margin=dict(l=95, r=0, t=109, b=37, autoexpand=False),
    paper_bgcolor="white", plot_bgcolor="white",
    showlegend=False)

fig.write_html("out.html")
